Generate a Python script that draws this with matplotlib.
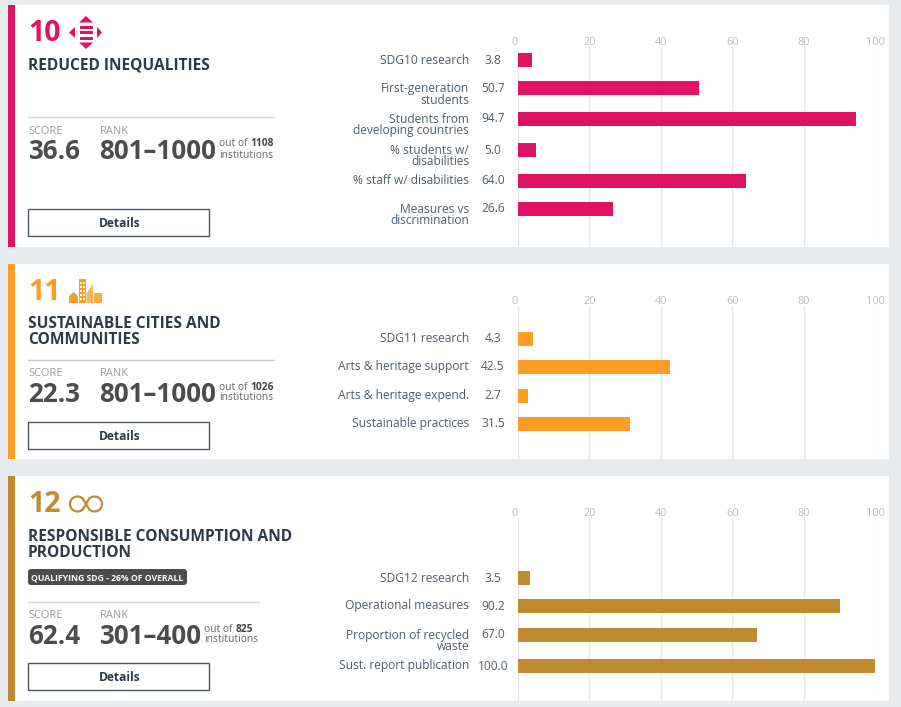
import matplotlib
matplotlib.use("Agg")
import matplotlib.pyplot as plt
from matplotlib.patches import Rectangle, Polygon, FancyBboxPatch, Arc

plt.rcParams['font.family'] = ['Open Sans', 'DejaVu Sans']

W, H = 901, 707
PX = 0.72  # one pixel in points at dpi 100

# data
sdg10_labels = ["SDG10 research", "First-generation\nstudents", "Students from\ndeveloping countries",
                "% students w/\ndisabilities", "% staff w/ disabilities", "Measures vs\ndiscrimination"]
sdg10_values = [3.8, 50.7, 94.7, 5.0, 64.0, 26.6]
sdg11_labels = ["SDG11 research", "Arts & heritage support", "Arts & heritage expend.", "Sustainable practices"]
sdg11_values = [4.3, 42.5, 2.7, 31.5]
sdg12_labels = ["SDG12 research", "Operational measures", "Proportion of recycled\nwaste", "Sust. report publication"]
sdg12_values = [3.5, 90.2, 67.0, 100.0]
ticks = [0, 20, 40, 60, 80, 100]

TEXT = "#4f5d6b"
DARK = "#2c3a4b"
SCORE = "#4e4b4b"
GREY = "#9a9a9a"

fig = plt.figure(figsize=(W / 100, H / 100), dpi=100, facecolor="#e7ebee")
bg = fig.add_axes([0, 0, 1, 1])
bg.set_xlim(0, W)
bg.set_ylim(H, 0)
bg.axis("off")


def tx(x, y, s, size, color=TEXT, weight="normal", ha="left", va="center", **kw):
    return bg.text(x, y, s, fontsize=size * PX, color=color, fontweight=weight, ha=ha, va=va, **kw)


def card(top, bottom, color):
    bg.add_patch(Rectangle((8, top), 881, bottom - top, fc="white", ec="none"))
    bg.add_patch(Rectangle((8, top), 7, bottom - top, fc=color, ec="none"))


def info(y_line, line_end, score, rank, total, color_line="#d5d5d5"):
    # y_line is the rule above SCORE / RANK
    bg.plot([28, line_end], [y_line, y_line], color=color_line, lw=1)
    tx(28, y_line + 14, "SCORE", 11, GREY)
    tx(100, y_line + 14, "RANK", 11, GREY)
    tx(28, y_line + 34.5, score, 26, SCORE, "bold")
    rend = fig.canvas.get_renderer()
    right = tx(99.5, y_line + 34.5, rank, 26, SCORE, "bold").get_window_extent(rend).x1
    r2 = tx(right + 3, y_line + 27, "out of ", 10.2, "#666666").get_window_extent(rend).x1
    tx(r2, y_line + 27, total, 10.2, "#444444", "bold")
    tx(right + 3, y_line + 38, "institutions", 10.2, "#666666")


def details(top):
    bg.add_patch(Rectangle((28, top), 181, 27, fc="white", ec="#4a5563", lw=1))
    tx(119.5, top + 14.5, "Details", 12, DARK, "bold", ha="center")


def chart(top, bottom, labels, values, positions, color):
    # axes span x 518..875 px and run from the top of the grid to the card bottom
    ax = fig.add_axes([518 / W, 1 - bottom / H, (875 - 518) / W, (bottom - top) / H])
    ax.set_xlim(0, 100)
    ax.set_ylim(bottom, top)
    ax.patch.set_visible(False)
    for s in ax.spines.values():
        s.set_visible(False)
    ax.set_axisbelow(True)
    ax.xaxis.tick_top()
    ax.set_xticks(ticks)
    ax.tick_params(axis="x", length=0, pad=-0.7, labelsize=11 * PX, labelcolor="#bdbdbd")
    # the zero label sits a little left of its gridline
    ax.get_xticklabels()[0].set_ha("right")
    ax.get_xticklabels()[0].set_x(-0.3)
    ax.set_yticks([])
    ax.grid(axis="x", color="#e8e8e8", lw=1)
    ax.barh(positions, values, height=14, color=color)
    for p, lab, v in zip(positions, labels, values):
        dy = 6 if "\n" in lab else 0
        ax.annotate(lab, (0, p + dy), xytext=(-49 * PX, 0), textcoords="offset points",
                    ha="right", va="center", fontsize=12 * PX, color=TEXT, linespacing=0.85, annotation_clip=False)
        ax.annotate("%.1f" % v, (0, p), xytext=(-25 * PX, 0), textcoords="offset points",
                    ha="center", va="center", fontsize=12 * PX, color=TEXT, annotation_clip=False)
    return ax


# card 1
PINK = "#e01263"
card(5, 247, PINK)
tx(28, 33.5, "10", 28.5, PINK, "bold")
bg.add_patch(Polygon([[86, 16], [79, 22.5], [93, 22.5]], fc=PINK, ec="none"))
bg.add_patch(Polygon([[86, 49], [79, 42.5], [93, 42.5]], fc=PINK, ec="none"))
bg.add_patch(Polygon([[69, 32.5], [75, 27], [75, 38]], fc=PINK, ec="none"))
bg.add_patch(Polygon([[102, 32.5], [97, 27], [97, 38]], fc=PINK, ec="none"))
for yy in (25.5, 31, 36.5):
    bg.add_patch(Rectangle((79.5, yy), 13, 3, fc=PINK, ec="none"))
tx(28, 65.5, "REDUCED INEQUALITIES", 15.5, DARK, "bold")
info(117, 274, "36.6", "801–1000", "1108")
details(209)
chart(47, 247, sdg10_labels, sdg10_values, [60, 88.3, 119, 150, 180.7, 209], PINK)

# card 2
ORANGE = "#fd9d24"
card(264, 459, ORANGE)
tx(28, 292.5, "11", 28.5, ORANGE, "bold")
bg.add_patch(Polygon([[69, 303], [69, 296], [73.5, 292], [78, 296], [78, 303]], fc=ORANGE, ec="none"))
bg.add_patch(Rectangle((78.5, 279), 7, 24, fc=ORANGE, ec="none"))
bg.add_patch(Polygon([[86.5, 303], [86.5, 293], [93, 284], [93, 303]], fc=ORANGE, ec="none", alpha=0.75))
bg.add_patch(Rectangle((94, 293), 8, 10, fc=ORANGE, ec="none", alpha=0.85))
for wx in (79.8, 82.8):
    for wy in (282, 286, 290, 294, 298):
        bg.add_patch(Rectangle((wx, wy), 1.8, 2, fc="white", ec="none"))
tx(28, 332.5, "SUSTAINABLE CITIES AND\nCOMMUNITIES", 15.5, DARK, "bold", linespacing=1.0)
info(360, 274, "22.3", "801–1000", "1026", "#c8c8c8")
details(422)
chart(306, 459, sdg11_labels, sdg11_values, [339, 367, 396, 424], ORANGE)

# card 3
GOLD = "#bf8b2e"
card(476, 701, GOLD)
tx(28, 504.5, "12", 28.5, GOLD, "bold")
bg.add_patch(Arc((77.5, 504), 15, 15, theta1=45, theta2=315, ec=GOLD, lw=1.6))
bg.add_patch(Arc((94.5, 504), 15, 15, theta1=-135, theta2=135, ec=GOLD, lw=1.6))
bg.plot([82.8, 89.2], [498.7, 509.3], color=GOLD, lw=1.6)
bg.plot([82.8, 85], [509.3, 505.7], color=GOLD, lw=1.6)
bg.plot([87, 89.2], [502.3, 498.7], color=GOLD, lw=1.6)
tx(28, 545, "RESPONSIBLE CONSUMPTION AND\nPRODUCTION", 15.5, DARK, "bold", linespacing=1.0)
bg.add_patch(FancyBboxPatch((31, 572), 153, 10, boxstyle="round,pad=3", fc="#4e4b4b", ec="none"))
tx(31, 577.5, "QUALIFYING SDG - 26% OF OVERALL", 8.7, "white", "bold")
info(602, 259, "62.4", "301–400", "825")
details(663)
chart(518, 701, sdg12_labels, sdg12_values, [578, 606, 635, 666], GOLD)

fig.savefig("out.png", dpi=100, facecolor=fig.get_facecolor())
